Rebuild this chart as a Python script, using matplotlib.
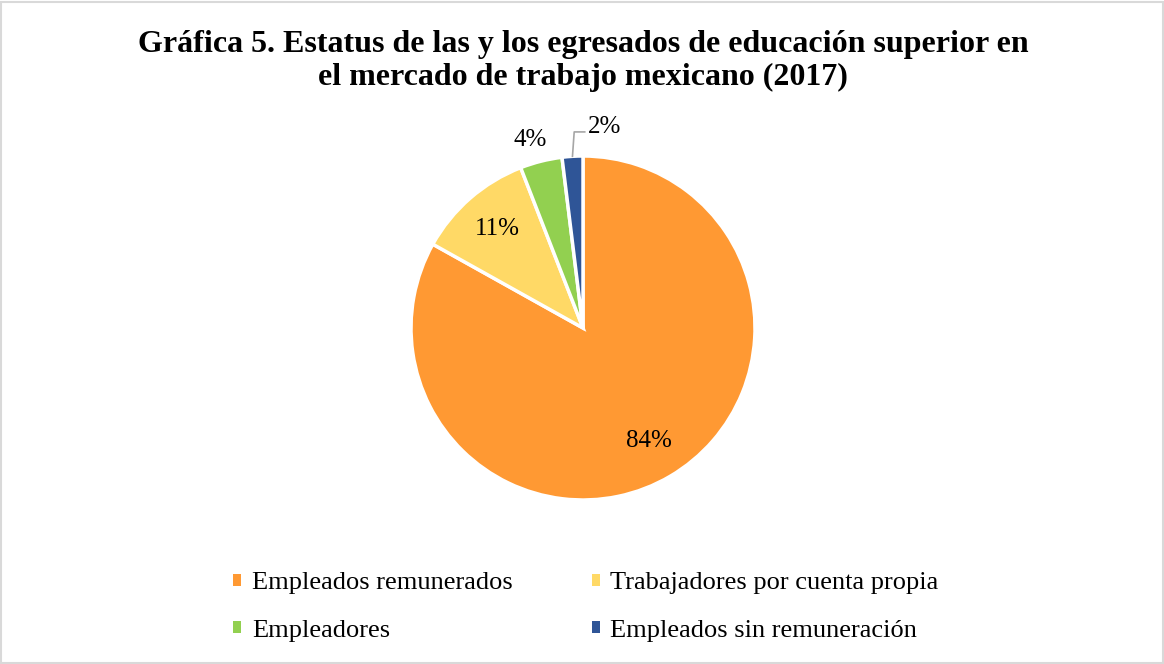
import numpy as np
import matplotlib
matplotlib.use("Agg")
import matplotlib.pyplot as plt
from matplotlib.patches import Rectangle

categories = ["Empleados remunerados", "Trabajadores por cuenta propia",
              "Empleadores", "Empleados sin remuneración"]
values = [83.1, 11.0, 3.95, 1.95]
pct_labels = ["84%", "11%", "4%", "2%"]
colors = ["#FF9933", "#FFD966", "#92D050", "#2F5597"]
title = "Gráfica 5. Estatus de las y los egresados de educación superior en\nel mercado de trabajo mexicano (2017)"

plt.rcParams['font.family'] = ['Liberation Serif', 'DejaVu Serif']

W, H = 1164, 664
fig = plt.figure(figsize=(W/100, H/100), dpi=100)
fig.patches.append(Rectangle((0.001, 0.002), 0.998, 0.995, transform=fig.transFigure,
                             fill=False, edgecolor="#D9D9D9", linewidth=1.5))

cx, cy, r = 583, 328, 172
ax = fig.add_axes([(cx - r)/W, (H - cy - r)/H, 2*r/W, 2*r/H])
wedges, _ = ax.pie(values, colors=colors, startangle=90, counterclock=False,
                   radius=1, wedgeprops=dict(edgecolor="white", linewidth=2.5))
ax.set_xlim(-1, 1)
ax.set_ylim(-1, 1)
ax.set_aspect('equal')
ax.axis('off')

dists = [0.76, 0.76, 1.13, None]
for w, lab, d in zip(wedges, pct_labels, dists):
    mid = np.deg2rad((w.theta1 + w.theta2) / 2)
    if d is not None:
        ax.text(d*np.cos(mid) - (0.03 if lab == "4%" else 0), d*np.sin(mid), lab,
                ha='center', va='center', fontsize=18, color='black', clip_on=False)
    else:
        x0, y0 = np.cos(mid), np.sin(mid)
        xs = [x0, x0 + 0.01, 0.01]
        ys = [y0, 1.14, 1.14]
        ax.plot(xs, ys, color="#A6A6A6", lw=1.2, clip_on=False)
        ax.text(0.03, 1.17, lab, ha='left', va='center', fontsize=18, clip_on=False)

fig.text(583/W, 1 - 61/H, title, ha='center', va='center', fontsize=23,
         fontweight='bold', linespacing=1.2)

order = [0, 2, 1, 3]
handles = [Rectangle((0, 0), 1, 1, facecolor=colors[i], edgecolor='none') for i in order]
labels = [categories[i] for i in order]
fig.legend(handles, labels, loc='center', bbox_to_anchor=(586/W, 1 - 607/H),
           ncol=2, frameon=False, fontsize=19, handlelength=0.3, handleheight=0.3,
           handletextpad=0.4, columnspacing=3.0, labelspacing=0.95)

fig.savefig("out.png", dpi=100)
